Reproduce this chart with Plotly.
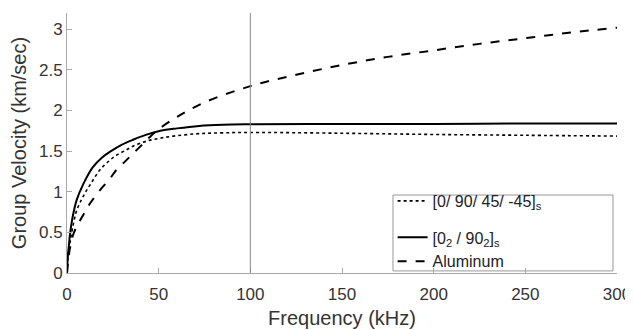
import plotly.graph_objects as go

freq_al = [0, 1, 2, 3.5, 6, 9, 13, 18, 23, 27, 32, 36, 41, 45, 50, 60, 75, 100, 125, 150, 175, 200, 225, 250, 275, 300]
vel_al = [0, 0.22, 0.35, 0.48, 0.6, 0.72, 0.87, 1.02, 1.15, 1.27, 1.38, 1.47, 1.58, 1.67, 1.77, 1.92, 2.1, 2.3, 2.44, 2.56, 2.66, 2.74, 2.82, 2.89, 2.96, 3.02]

freq_cp = [0, 0.5, 1, 1.6, 3, 5.3, 9, 14, 19, 24, 30, 36, 43, 51, 60, 72, 85, 100, 150, 200, 250, 300]
vel_cp = [0, 0.22, 0.33, 0.47, 0.68, 0.9, 1.1, 1.3, 1.42, 1.5, 1.58, 1.64, 1.7, 1.75, 1.78, 1.81, 1.825, 1.83, 1.835, 1.835, 1.84, 1.84]

freq_qi = [0, 0.5, 1, 1.8, 3, 5.3, 9, 13, 18, 23, 27, 32, 36, 43, 51, 60, 72, 85, 100, 150, 200, 250, 300]
vel_qi = [0, 0.2, 0.3, 0.4, 0.55, 0.77, 0.95, 1.1, 1.27, 1.38, 1.45, 1.51, 1.56, 1.62, 1.66, 1.69, 1.715, 1.725, 1.73, 1.72, 1.705, 1.695, 1.685]

fig = go.Figure()
fig.add_trace(go.Scatter(x=freq_qi, y=vel_qi, mode="lines", name="[0/ 90/ 45/ -45]<sub>s</sub>",
                         line=dict(color="black", width=1.6, dash="dot", shape="spline"), legend="legend"))
fig.add_trace(go.Scatter(x=freq_cp, y=vel_cp, mode="lines", name="[0<sub>2</sub> / 90<sub>2</sub>]<sub>s</sub>",
                         line=dict(color="black", width=2, shape="spline"), legend="legend2"))
fig.add_trace(go.Scatter(x=freq_al, y=vel_al, mode="lines", name="Aluminum",
                         line=dict(color="black", width=2, dash="dash", shape="spline"), legend="legend3"))

fig.add_vline(x=100, line=dict(color="#888888", width=1))

# legend box
fig.add_shape(type="rect", xref="paper", yref="paper", x0=0.5927, x1=0.9927, y0=0.008, y1=0.30,
              line=dict(color="#999999", width=1), fillcolor="white", layer="below")

font = "Liberation Sans, Arial, sans-serif"
leg = dict(x=0.592, xanchor="left", yanchor="middle", bgcolor="rgba(0,0,0,0)",
           borderwidth=0, font=dict(size=16, color="#222222"), itemwidth=30)
fig.update_layout(
    width=625, height=322,
    margin=dict(l=59, r=16, t=5, b=57),
    plot_bgcolor="white", paper_bgcolor="white",
    font=dict(family=font, color="#333333", size=17),
    xaxis=dict(range=[0, 300], tickvals=[0, 50, 100, 150, 200, 250, 300], ticks="inside", ticklen=5,
               tickcolor="#aaaaaa", showline=True, linecolor="#aaaaaa", linewidth=1, showgrid=False,
               zeroline=False, automargin=False, ticklabelstandoff=6,
               title=dict(text="Frequency (kHz)", font=dict(size=20), standoff=7),
               tickfont=dict(size=17)),
    yaxis=dict(range=[0, 3.2], tickvals=[0, 0.5, 1, 1.5, 2, 2.5, 3], ticktext=["0", "0.5", "1", "1.5", "2", "2.5", "3"],
               ticks="inside", ticklen=5, tickcolor="#aaaaaa", showline=True, linecolor="#aaaaaa", linewidth=1,
               showgrid=False, zeroline=False, automargin=False,
               title=dict(text="Group Velocity (km/sec)", font=dict(size=20), standoff=6),
               tickfont=dict(size=17)),
    legend=dict(leg, y=0.277),
    legend2=dict(leg, y=0.137),
    legend3=dict(leg, y=0.045),
    showlegend=True,
)
fig.write_html("out.html")
